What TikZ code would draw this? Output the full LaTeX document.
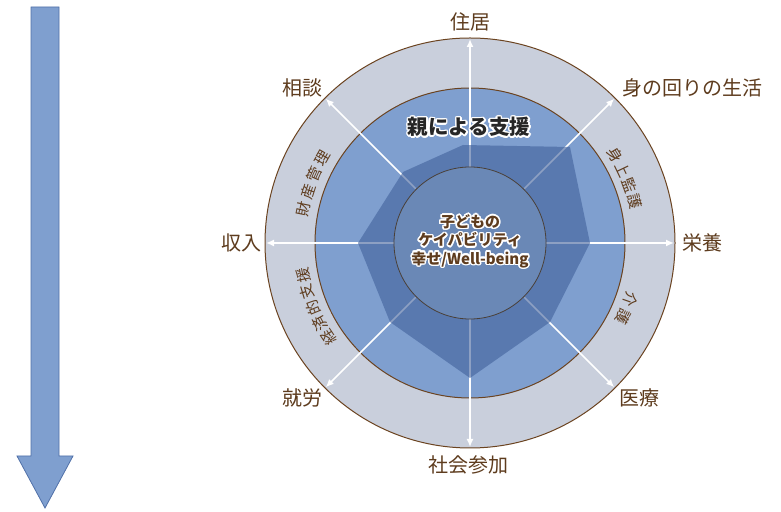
\documentclass[tikz,border=0pt]{standalone}
\usepackage{fontspec}
\setmainfont{Noto Sans CJK JP}
\usetikzlibrary{arrows.meta,calc}
\definecolor{ringgray}{HTML}{C9CFDC}
\definecolor{midblue}{HTML}{7F9FCF}
\definecolor{polyblue}{HTML}{41619B}
\definecolor{innerblue}{HTML}{6A88B6}
\definecolor{innerline}{HTML}{4A4038}
\definecolor{brownline}{HTML}{6B4320}
\definecolor{browntext}{HTML}{5E3C1E}
\definecolor{darktext}{HTML}{262626}
\definecolor{arrowedge}{HTML}{5070A8}
\newsavebox\hlbox
\newsavebox\hltxt
\newlength\hlr
\setlength\hlr{1.5pt}
\newcommand\hlc[2]{\rlap{\hspace*{#1\hlr}\raisebox{#2\hlr}{\usebox\hlbox}}}
\newcommand\halo[1]{%
  \sbox\hltxt{#1}%
  \sbox\hlbox{\color{white}#1}%
  \leavevmode
  \hlc{1}{0}\hlc{-1}{0}\hlc{0}{1}\hlc{0}{-1}%
  \hlc{.7}{.7}\hlc{-.7}{.7}\hlc{.7}{-.7}\hlc{-.7}{-.7}%
  \hlc{.92}{.38}\hlc{-.92}{.38}\hlc{.92}{-.38}\hlc{-.92}{-.38}%
  \hlc{.38}{.92}\hlc{-.38}{.92}\hlc{.38}{-.92}\hlc{-.38}{-.92}%
  \usebox\hltxt}
\begin{document}
\begin{tikzpicture}[x=1pt,y=1pt,
  lbl/.style={text=browntext,font=\fontsize{20}{24}\selectfont,inner sep=0pt},
  ringlbl/.style={text=browntext,font=\fontsize{15}{18}\selectfont,inner sep=0pt},
  spoke/.style={white,line width=1.6pt,-{Latex[length=8pt,width=7pt]}},
  ringline/.style={draw=brownline,line width=1pt}]
\useasboundingbox (0,0) rectangle (781,511);
\coordinate (c) at (470,268);
% big down arrow
\draw[fill=midblue,draw=arrowedge,line width=0.8pt]
  (31,504) -- (59,504) -- (59,55) -- (73,55) -- (45,3) -- (17,55) -- (31,55) -- cycle;
% rings
\fill[ringgray] (c) circle (205);
\fill[midblue] (c) circle (155);
\draw[ringline] (c) circle (205);
\draw[ringline] (c) circle (155);
% spokes
\foreach \i in {0,...,7}{
  \coordinate (s\i) at ($(c)+(\i*45:76)$);
  \coordinate (e\i) at ($(c)+(\i*45:204)$);
  \draw[spoke] (s\i) -- (e\i);
}
% polygon
\fill[polyblue,fill opacity=.6] (463,366) -- (570,364) -- (590,268) -- (550,189)
  -- (470,133) -- (390,189) -- (358,268) -- (403,339) -- cycle;
% inner circle
\draw[fill=innerblue,draw=innerline,line width=.8pt] (c) circle (76);
% centre text
\node[inner sep=0pt,text=browntext,font=\fontsize{15}{18}\selectfont\bfseries] (core) at (470,269)
  {\halo{\begin{tabular}{@{}c@{}}子どもの\\ケイパビリティ\\幸せ/Well-being\end{tabular}}};
\node[inner sep=0pt,text=darktext,font=\fontsize{20.5}{24}\selectfont\bfseries] (oya) at (469,384)
  {\halo{親による支援}};
% outer labels
\node[lbl] (l1) at (470,489) {住居};
\node[lbl] (l2) at (692,423) {身の回りの生活};
\node[lbl] (l3) at (702,268) {栄養};
\node[lbl] (l4) at (639,113) {医療};
\node[lbl] (l5) at (468,46) {社会参加};
\node[lbl] (l6) at (302,113) {就労};
\node[lbl] (l7) at (241,268) {収入};
\node[lbl] (l8) at (302,423) {相談};
% ring labels along arc
\foreach \ch/\a [count=\k] in {身/31.3,上/25.6,監/19.9,護/14.2}
  \node[ringlbl,rotate={\a-90}] (ma\k) at ($(c)+(\a:170)$) {\ch};
\foreach \ch/\a [count=\k] in {介/-19.3,護/-25.8}
  \node[ringlbl,rotate={\a-90}] (mb\k) at ($(c)+(\a:170)$) {\ch};
\foreach \ch/\a [count=\k] in {財/168.4,産/162.3,管/156.2,理/150.1}
  \node[ringlbl,rotate={\a-90}] (mc\k) at ($(c)+(\a:170)$) {\ch};
\foreach \ch/\a [count=\k] in {経/213.8,済/208.1,的/202.4,支/196.7,援/191}
  \node[ringlbl,rotate={\a-90}] (md\k) at ($(c)+(\a:170)$) {\ch};
\end{tikzpicture}
\end{document}
